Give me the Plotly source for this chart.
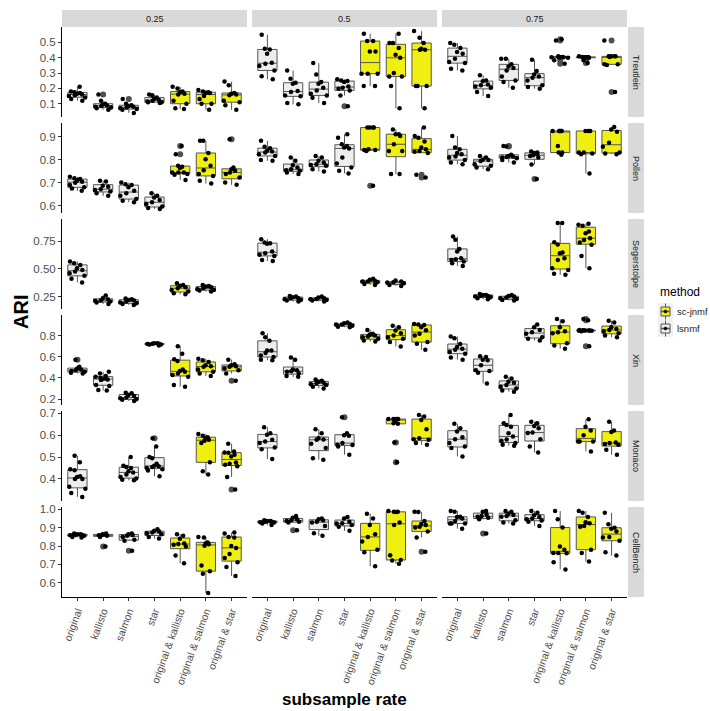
import plotly.graph_objects as go

rates = ["0.25", "0.5", "0.75"]
datasets = ["Treutlein", "Pollen", "Segerstolpe", "Xin", "Monaco", "CellBench"]
categories = ["original", "kallisto", "salmon", "star",
              "original & kallisto", "original & salmon", "original & star"]
cat_method = ["lsnmf", "lsnmf", "lsnmf", "lsnmf", "sc-jnmf", "sc-jnmf", "sc-jnmf"]
legend_methods = ["sc-jnmf", "lsnmf"]

# ARI values per dataset / subsample rate, one list per category (None = not run)
TREUTLEIN_025 = [
    [0.21, 0.18, 0.175, 0.17, 0.165, 0.16, 0.155, 0.15, 0.14, 0.13, 0.12],
    [0.16, 0.12, 0.1, 0.095, 0.09, 0.085, 0.08, 0.075, 0.07, 0.06],
    [0.13, 0.1, 0.09, 0.085, 0.08, 0.075, 0.07, 0.065, 0.06, 0.04],
    [0.16, 0.155, 0.14, 0.13, 0.125, 0.12, 0.115, 0.11, 0.11, 0.105],
    [0.21, 0.2, 0.18, 0.175, 0.165, 0.16, 0.12, 0.1, 0.07, 0.065],
    [0.19, 0.18, 0.175, 0.17, 0.17, 0.15, 0.13, 0.1, 0.1, 0.06],
    [0.245, 0.22, 0.17, 0.165, 0.16, 0.155, 0.12, 0.11, 0.09, 0.06],
]
TREUTLEIN_05 = [
    [0.55, 0.459, 0.454, 0.426, 0.367, 0.361, 0.346, 0.317, 0.28, 0.259],
    [0.317, 0.263, 0.237, 0.23, 0.183, 0.176, 0.154, 0.148, 0.104, 0.096],
    [0.365, 0.291, 0.241, 0.23, 0.204, 0.187, 0.165, 0.154, 0.139, 0.104],
    [0.259, 0.252, 0.248, 0.241, 0.213, 0.204, 0.198, 0.187, 0.154, 0.083],
    [0.557, 0.509, 0.509, 0.441, 0.441, 0.296, 0.296, 0.296, 0.215, 0.215],
    [0.557, 0.496, 0.496, 0.463, 0.42, 0.4, 0.3, 0.278, 0.278, 0.215, 0.07],
    [0.574, 0.53, 0.496, 0.459, 0.452, 0.452, 0.215, 0.215, 0.215, 0.07],
]
TREUTLEIN_075 = [
    [0.496, 0.485, 0.463, 0.437, 0.426, 0.393, 0.372, 0.365, 0.328, 0.317],
    [0.285, 0.252, 0.246, 0.226, 0.22, 0.213, 0.204, 0.176, 0.15],
    [0.393, 0.393, 0.357, 0.343, 0.333, 0.317, 0.278, 0.252, 0.241, 0.204],
    [0.387, 0.313, 0.291, 0.278, 0.27, 0.252, 0.22, 0.209, 0.198],
    [0.52, 0.513, 0.409, 0.405, 0.404, 0.404, 0.404, 0.404, 0.4, 0.383, 0.361],
    [0.409, 0.405, 0.404, 0.404, 0.404, 0.404, 0.404, 0.4, 0.383, 0.365],
    [0.513, 0.409, 0.409, 0.409, 0.409, 0.405, 0.357, 0.357, 0.352, 0.176],
]
POLLEN_025 = [
    [0.726, 0.72, 0.716, 0.71, 0.705, 0.70, 0.69, 0.68, 0.675, 0.665],
    [0.709, 0.706, 0.687, 0.683, 0.672, 0.668, 0.662, 0.654, 0.643],
    [0.701, 0.694, 0.69, 0.68, 0.665, 0.654, 0.643, 0.629, 0.622, 0.615],
    [0.654, 0.643, 0.636, 0.625, 0.615, 0.607, 0.596, 0.59, 0.586],
    [0.861, 0.825, 0.774, 0.77, 0.765, 0.745, 0.745, 0.745, 0.738, 0.735, 0.712],
    [0.883, 0.883, 0.83, 0.803, 0.774, 0.755, 0.738, 0.73, 0.709, 0.697],
    [0.89, 0.767, 0.759, 0.752, 0.745, 0.738, 0.723, 0.701, 0.691],
]
POLLEN_05 = [
    [0.883, 0.857, 0.851, 0.84, 0.836, 0.832, 0.825, 0.817, 0.799, 0.796],
    [0.81, 0.796, 0.777, 0.767, 0.759, 0.755, 0.752, 0.745, 0.738],
    [0.817, 0.81, 0.796, 0.788, 0.781, 0.778, 0.774, 0.759, 0.749],
    [0.912, 0.897, 0.868, 0.86, 0.854, 0.85, 0.81, 0.784, 0.767, 0.752, 0.741],
    [0.941, 0.941, 0.941, 0.941, 0.846, 0.843, 0.843, 0.839, 0.687],
    [0.933, 0.912, 0.912, 0.904, 0.868, 0.839, 0.839, 0.738, 0.738],
    [0.941, 0.904, 0.897, 0.88, 0.854, 0.846, 0.839, 0.835, 0.83, 0.735, 0.723],
]
POLLEN_075 = [
    [0.904, 0.854, 0.846, 0.83, 0.825, 0.815, 0.81, 0.799, 0.788, 0.781],
    [0.817, 0.81, 0.80, 0.799, 0.795, 0.781, 0.774, 0.767, 0.759],
    [0.861, 0.858, 0.822, 0.817, 0.815, 0.813, 0.81, 0.807, 0.799, 0.788],
    [0.836, 0.832, 0.83, 0.825, 0.82, 0.817, 0.81, 0.78, 0.716],
    [0.926, 0.926, 0.926, 0.926, 0.926, 0.926, 0.86, 0.832, 0.832, 0.822],
    [0.926, 0.926, 0.926, 0.832, 0.832, 0.828, 0.825, 0.741],
    [0.943, 0.933, 0.923, 0.875, 0.857, 0.832, 0.828, 0.825],
]
SEGERSTOLPE_025 = [
    [0.566, 0.551, 0.536, 0.506, 0.491, 0.476, 0.461, 0.437, 0.41, 0.377],
    [0.259, 0.235, 0.226, 0.214, 0.211, 0.205, 0.196, 0.184],
    [0.232, 0.226, 0.22, 0.214, 0.205, 0.196, 0.19, 0.184, 0.175],
    None,
    [0.37, 0.355, 0.346, 0.334, 0.325, 0.31, 0.295, 0.28, 0.271],
    [0.355, 0.346, 0.34, 0.334, 0.325, 0.316, 0.31, 0.304, 0.295],
    None,
]
SEGERSTOLPE_05 = [
    [0.768, 0.738, 0.732, 0.726, 0.657, 0.642, 0.627, 0.617, 0.581, 0.572],
    [0.256, 0.25, 0.244, 0.235, 0.235, 0.226, 0.22, 0.214, 0.205],
    [0.25, 0.241, 0.235, 0.229, 0.226, 0.22, 0.214, 0.205],
    None,
    [0.41, 0.401, 0.392, 0.386, 0.386, 0.38, 0.364, 0.355],
    [0.395, 0.386, 0.38, 0.377, 0.37, 0.355, 0.346],
    None,
]
SEGERSTOLPE_075 = [
    [0.792, 0.762, 0.68, 0.657, 0.596, 0.587, 0.581, 0.566, 0.551, 0.527],
    [0.274, 0.265, 0.265, 0.256, 0.256, 0.25, 0.244, 0.235, 0.226],
    [0.265, 0.256, 0.25, 0.241, 0.235, 0.229, 0.22, 0.214],
    None,
    [0.913, 0.913, 0.74, 0.72, 0.648, 0.642, 0.596, 0.581, 0.506, 0.491, 0.455, 0.446],
    [0.907, 0.898, 0.889, 0.837, 0.822, 0.777, 0.76, 0.738, 0.717, 0.617, 0.506],
    None,
]
XIN_025 = [
    [0.573, 0.505, 0.489, 0.48, 0.474, 0.467, 0.458, 0.449, 0.442],
    [0.458, 0.442, 0.418, 0.411, 0.4, 0.395, 0.39, 0.385, 0.38, 0.334, 0.324, 0.287, 0.281],
    [0.262, 0.256, 0.24, 0.231, 0.215, 0.209, 0.2, 0.194, 0.184],
    [0.728, 0.728, 0.722, 0.722, 0.72, 0.716, 0.716, 0.707],
    [0.7, 0.629, 0.576, 0.56, 0.48, 0.467, 0.458, 0.442, 0.427, 0.411, 0.334, 0.318],
    [0.582, 0.567, 0.551, 0.52, 0.51, 0.505, 0.48, 0.458, 0.442, 0.418],
    [0.573, 0.529, 0.52, 0.511, 0.505, 0.489, 0.474, 0.442, 0.374],
]
XIN_05 = [
    [0.822, 0.784, 0.75, 0.66, 0.66, 0.635, 0.613, 0.598, 0.573, 0.567],
    [0.592, 0.573, 0.48, 0.474, 0.464, 0.458, 0.442, 0.418, 0.411],
    [0.386, 0.374, 0.365, 0.355, 0.349, 0.34, 0.334, 0.318, 0.302],
    [0.924, 0.915, 0.909, 0.903, 0.903, 0.893, 0.884, 0.878],
    [0.853, 0.816, 0.809, 0.8, 0.791, 0.784, 0.769, 0.753, 0.744],
    [0.893, 0.878, 0.847, 0.822, 0.8, 0.784, 0.769, 0.738, 0.697],
    [0.909, 0.903, 0.9, 0.878, 0.85, 0.816, 0.8, 0.738, 0.722, 0.666],
]
XIN_075 = [
    [0.791, 0.775, 0.72, 0.691, 0.676, 0.666, 0.645, 0.629, 0.592, 0.573],
    [0.604, 0.598, 0.573, 0.567, 0.52, 0.474, 0.467, 0.449, 0.349],
    [0.411, 0.396, 0.365, 0.355, 0.334, 0.318, 0.302, 0.281, 0.271],
    [0.903, 0.878, 0.853, 0.831, 0.816, 0.784, 0.769, 0.753],
    [0.955, 0.934, 0.878, 0.84, 0.831, 0.822, 0.728, 0.707, 0.676],
    [0.955, 0.945, 0.852, 0.85, 0.848, 0.847, 0.847, 0.847, 0.846, 0.845, 0.84, 0.7],
    [0.94, 0.924, 0.878, 0.862, 0.853, 0.84, 0.822, 0.8, 0.784],
]
MONACO_025 = [
    [0.506, 0.476, 0.445, 0.44, 0.412, 0.409, 0.4, 0.4, 0.364, 0.355, 0.336, 0.318],
    None,
    [0.5, 0.461, 0.455, 0.45, 0.435, 0.43, 0.42, 0.409, 0.402, 0.397, 0.394],
    [0.586, 0.548, 0.5, 0.495, 0.47, 0.461, 0.458, 0.455, 0.45, 0.445, 0.439, 0.412],
    None,
    [0.606, 0.597, 0.591, 0.586, 0.579, 0.575, 0.564, 0.476, 0.435, 0.42],
    [0.561, 0.526, 0.521, 0.52, 0.511, 0.503, 0.475, 0.47, 0.465, 0.458, 0.409, 0.352],
]
MONACO_05 = [
    [0.636, 0.609, 0.602, 0.579, 0.571, 0.564, 0.544, 0.536, 0.491],
    None,
    [0.627, 0.609, 0.586, 0.58, 0.579, 0.561, 0.541, 0.495, 0.488],
    [0.682, 0.609, 0.6, 0.597, 0.564, 0.556, 0.555, 0.548, 0.511],
    None,
    [0.674, 0.674, 0.674, 0.674, 0.674, 0.665, 0.655, 0.652, 0.567, 0.476],
    [0.692, 0.685, 0.67, 0.627, 0.586, 0.582, 0.579, 0.564, 0.556],
]
MONACO_075 = [
    [0.652, 0.632, 0.617, 0.591, 0.582, 0.564, 0.548, 0.541, 0.503],
    None,
    [0.692, 0.655, 0.647, 0.639, 0.609, 0.594, 0.58, 0.575, 0.564, 0.556, 0.552],
    [0.662, 0.655, 0.642, 0.632, 0.612, 0.61, 0.582, 0.548, 0.521],
    None,
    [0.673, 0.639, 0.621, 0.6, 0.571, 0.571, 0.571, 0.526],
    [0.662, 0.621, 0.615, 0.567, 0.564, 0.56, 0.556, 0.533, 0.511],
]
CELLBENCH_025 = [
    [0.868, 0.865, 0.865, 0.862, 0.861, 0.859, 0.856, 0.85, 0.847],
    [0.868, 0.865, 0.862, 0.861, 0.859, 0.856, 0.85, 0.798],
    [0.868, 0.865, 0.861, 0.856, 0.85, 0.835, 0.829, 0.775],
    [0.892, 0.883, 0.879, 0.874, 0.87, 0.865, 0.85, 0.841],
    [0.865, 0.856, 0.84, 0.814, 0.811, 0.807, 0.798, 0.748, 0.706],
    [0.85, 0.847, 0.82, 0.814, 0.81, 0.802, 0.694, 0.663, 0.649, 0.544],
    [0.874, 0.868, 0.85, 0.847, 0.8, 0.79, 0.757, 0.735, 0.712, 0.685, 0.636],
]
CELLBENCH_05 = [
    [0.941, 0.937, 0.937, 0.933, 0.933, 0.93, 0.928, 0.923, 0.915],
    [0.964, 0.955, 0.946, 0.941, 0.937, 0.933, 0.928, 0.886],
    [0.951, 0.946, 0.941, 0.933, 0.928, 0.91, 0.87, 0.856],
    [0.959, 0.951, 0.933, 0.925, 0.923, 0.915, 0.905, 0.883],
    [0.977, 0.951, 0.915, 0.865, 0.85, 0.825, 0.78, 0.766, 0.69],
    [0.991, 0.987, 0.987, 0.986, 0.928, 0.915, 0.75, 0.724, 0.721, 0.703],
    [0.987, 0.986, 0.937, 0.92, 0.915, 0.905, 0.901, 0.88, 0.847, 0.769],
]
CELLBENCH_075 = [
    [0.991, 0.987, 0.96, 0.959, 0.95, 0.937, 0.923, 0.923, 0.923, 0.895],
    [0.991, 0.987, 0.973, 0.964, 0.96, 0.955, 0.946, 0.868],
    [0.991, 0.987, 0.977, 0.97, 0.964, 0.96, 0.941, 0.928, 0.923],
    [0.991, 0.982, 0.968, 0.959, 0.95, 0.946, 0.94, 0.933, 0.91],
    [0.991, 0.946, 0.901, 0.798, 0.78, 0.762, 0.762, 0.76, 0.712, 0.672],
    [0.991, 0.982, 0.959, 0.93, 0.925, 0.91, 0.905, 0.78, 0.762, 0.715],
    [0.982, 0.919, 0.9, 0.895, 0.88, 0.85, 0.847, 0.829, 0.766, 0.748],
]

DATA = [
    [TREUTLEIN_025, TREUTLEIN_05, TREUTLEIN_075],
    [POLLEN_025, POLLEN_05, POLLEN_075],
    [SEGERSTOLPE_025, SEGERSTOLPE_05, SEGERSTOLPE_075],
    [XIN_025, XIN_05, XIN_075],
    [MONACO_025, MONACO_05, MONACO_075],
    [CELLBENCH_025, CELLBENCH_05, CELLBENCH_075],
]

y_tickvals = [
    [0.1, 0.2, 0.3, 0.4, 0.5],
    [0.6, 0.7, 0.8, 0.9],
    [0.25, 0.5, 0.75],
    [0.2, 0.4, 0.6, 0.8],
    [0.4, 0.5, 0.6, 0.7],
    [0.6, 0.7, 0.8, 0.9, 1.0],
]
y_ticktext = [
    ["0.1", "0.2", "0.3", "0.4", "0.5"],
    ["0.6", "0.7", "0.8", "0.9"],
    ["0.25", "0.50", "0.75"],
    ["0.2", "0.4", "0.6", "0.8"],
    ["0.4", "0.5", "0.6", "0.7"],
    ["0.6", "0.7", "0.8", "0.9", "1.0"],
]

# ---------------- styling / layout ----------------
W, H = 710, 711
FONT = "Liberation Sans, Arial, Helvetica, sans-serif"
FILL = {"sc-jnmf": "#F0F010", "lsnmf": "#EDEDED"}
BOXLINE = "#555555"
COL_PX = [(62, 247), (252, 437), (442, 627)]
ROW_PX = [(27 + 96 * r, 117 + 96 * r) for r in range(6)]


def px(x):
    return x / W


def py(y):
    return 1 - y / H


fig = go.Figure()
layout_axes = {}

for r in range(6):
    # free y scale per row (ggplot-style 5% expansion)
    allv = [v for c in range(3) for lst in DATA[r][c] if lst for v in lst]
    lo, hi = min(allv), max(allv)
    pad = 0.05 * (hi - lo)
    yr = [lo - pad, hi + pad]
    for c in range(3):
        idx = r * 3 + c + 1
        xs = "x" if idx == 1 else f"x{idx}"
        ys = "y" if idx == 1 else f"y{idx}"
        for k, cat in enumerate(categories):
            vals = DATA[r][c][k]
            if not vals:
                continue
            m = cat_method[k]
            fig.add_trace(go.Box(
                x=[cat] * len(vals), y=vals, xaxis=xs, yaxis=ys,
                name=m, showlegend=False,
                width=0.75, whiskerwidth=0,
                fillcolor=FILL[m], line=dict(color=BOXLINE, width=1),
                boxpoints="outliers", jitter=0, pointpos=0,
                marker=dict(color="#505050", size=6),
                hoverinfo="y",
            ))
            fig.add_trace(go.Box(
                x=[cat] * len(vals), y=vals, xaxis=xs, yaxis=ys,
                name=m, showlegend=False,
                width=0.8, whiskerwidth=0,
                fillcolor="rgba(0,0,0,0)", line=dict(color="rgba(0,0,0,0)", width=0),
                boxpoints="all", jitter=1, pointpos=0,
                marker=dict(color="black", size=4.5),
                hoverinfo="y",
            ))
        x0, x1 = COL_PX[c]
        t0, t1 = ROW_PX[r]
        layout_axes["xaxis" if idx == 1 else f"xaxis{idx}"] = dict(
            domain=[px(x0), px(x1)], anchor=ys, type="category",
            categoryorder="array", categoryarray=categories, range=[-0.6, 6.6],
            showgrid=False, zeroline=False, automargin=False,
            showline=(r == 5), linecolor="black", linewidth=1,
            ticks="outside" if r == 5 else "", ticklen=3, tickcolor="#333333",
            showticklabels=(r == 5), tickangle=-70,
            tickfont=dict(family=FONT, size=10.5, color="#4D4D4D"),
        )
        layout_axes["yaxis" if idx == 1 else f"yaxis{idx}"] = dict(
            domain=[py(t1), py(t0)], anchor=xs, range=yr,
            showgrid=False, zeroline=False, automargin=False,
            showline=(c == 0), linecolor="black", linewidth=1,
            ticks="outside" if c == 0 else "", ticklen=3, tickcolor="#333333",
            tickvals=y_tickvals[r], ticktext=y_ticktext[r],
            showticklabels=(c == 0),
            tickfont=dict(family=FONT, size=11.5, color="#4D4D4D"),
        )

shapes = []
annotations = []
for c, rate in enumerate(rates):
    x0, x1 = COL_PX[c]
    shapes.append(dict(type="rect", xref="paper", yref="paper",
                       x0=px(x0), x1=px(x1), y0=py(27), y1=py(10),
                       fillcolor="#D9D9D9", line=dict(width=0), layer="below"))
    annotations.append(dict(text=rate, xref="paper", yref="paper",
                            x=px((x0 + x1) / 2), y=py(18.5), showarrow=False,
                            font=dict(family=FONT, size=9, color="#1A1A1A"),
                            xanchor="center", yanchor="middle"))
for r, name in enumerate(datasets):
    t0, t1 = ROW_PX[r]
    shapes.append(dict(type="rect", xref="paper", yref="paper",
                       x0=px(628), x1=px(644), y0=py(t1), y1=py(t0),
                       fillcolor="#D9D9D9", line=dict(width=0), layer="below"))
    annotations.append(dict(text=name, xref="paper", yref="paper",
                            x=px(636), y=py((t0 + t1) / 2), showarrow=False,
                            textangle=90,
                            font=dict(family=FONT, size=9, color="#1A1A1A"),
                            xanchor="center", yanchor="middle"))

annotations.append(dict(text="<b>ARI</b>", xref="paper", yref="paper",
                        x=px(21), y=py(312), showarrow=False, textangle=-90,
                        font=dict(family=FONT, size=20, color="black"),
                        xanchor="center", yanchor="middle"))
annotations.append(dict(text="<b>subsample rate</b>", xref="paper", yref="paper",
                        x=px(344), y=py(699), showarrow=False,
                        font=dict(family=FONT, size=17, color="black"),
                        xanchor="center", yanchor="middle"))

# ---- legend drawn as keys (ggplot style) ----
annotations.append(dict(text="method", xref="paper", yref="paper",
                        x=px(658), y=py(292), showarrow=False,
                        font=dict(family=FONT, size=12, color="black"),
                        xanchor="left", yanchor="middle"))
shapes.append(dict(type="rect", xref="paper", yref="paper",
                   x0=px(658), x1=px(673), y0=py(337), y1=py(303),
                   fillcolor="#F0F0F0", line=dict(width=0)))
for i, m in enumerate(legend_methods):
    cy = 311.5 + 17 * i
    shapes.append(dict(type="line", xref="paper", yref="paper",
                       x0=px(665.5), x1=px(665.5), y0=py(cy + 8), y1=py(cy - 8),
                       line=dict(color=BOXLINE, width=1)))
    shapes.append(dict(type="rect", xref="paper", yref="paper",
                       x0=px(661), x1=px(670), y0=py(cy + 4.5), y1=py(cy - 4.5),
                       fillcolor=FILL[m], line=dict(color=BOXLINE, width=1)))
    shapes.append(dict(type="line", xref="paper", yref="paper",
                       x0=px(661), x1=px(670), y0=py(cy), y1=py(cy),
                       line=dict(color=BOXLINE, width=1.5)))
    shapes.append(dict(type="circle", xref="paper", yref="paper",
                       x0=px(664), x1=px(667), y0=py(cy + 1.5), y1=py(cy - 1.5),
                       fillcolor="black", line=dict(color="black", width=0.5)))
    annotations.append(dict(text=m, xref="paper", yref="paper",
                            x=px(675), y=py(cy), showarrow=False,
                            font=dict(family=FONT, size=9.5, color="#1A1A1A"),
                            xanchor="left", yanchor="middle"))

fig.update_layout(
    width=W, height=H, autosize=False,
    margin=dict(l=0, r=0, t=0, b=0, pad=0),
    template="none",
    paper_bgcolor="white", plot_bgcolor="white",
    boxmode="overlay",
    showlegend=False,
    shapes=shapes, annotations=annotations,
    font=dict(family=FONT),
    **layout_axes,
)

fig.write_html(
    "out.html",
    config={"displayModeBar": False},
    post_script="document.body.style.margin='0';document.body.style.overflow='hidden';",
)
